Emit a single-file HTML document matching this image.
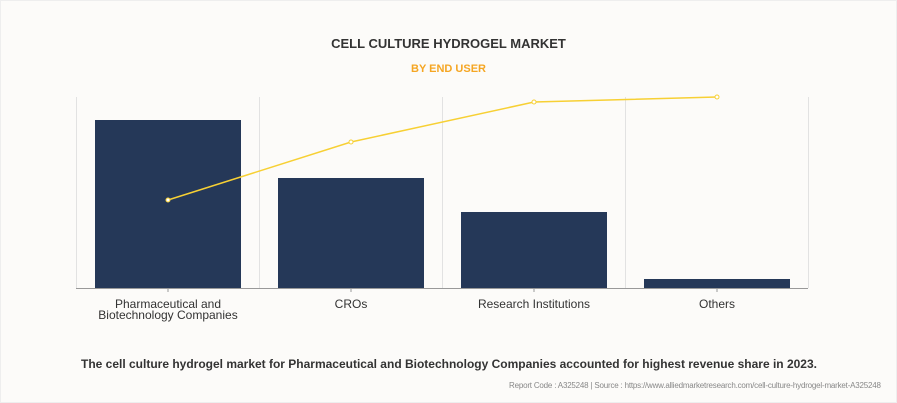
<!DOCTYPE html>
<html><head><meta charset="utf-8"><style>
body{margin:0;background:#fff;}
.w{position:relative;width:897px;height:403px;box-sizing:border-box;background:#fcfbf9;border:1px solid #eee;font-family:"Liberation Sans",sans-serif;overflow:hidden}
.t{position:absolute;left:-1px;width:897px;text-align:center}
svg{position:absolute;left:-1px;top:-1px}
</style></head><body><div class="w">
<div class="t" style="top:35px;font-size:13px;font-weight:bold;color:#333">CELL CULTURE HYDROGEL MARKET</div>
<div class="t" style="top:62px;font-size:11px;font-weight:bold;color:#f5a623">BY END USER</div>
<svg width="897" height="403">
<g stroke="#e2e2e2" stroke-width="1">
<line x1="76.5" y1="97" x2="76.5" y2="288"/><line x1="259.5" y1="97" x2="259.5" y2="288"/><line x1="442.5" y1="97" x2="442.5" y2="288"/><line x1="625.5" y1="97" x2="625.5" y2="288"/><line x1="808.5" y1="97" x2="808.5" y2="288"/>
</g>
<g fill="#253858">
<rect x="95" y="120" width="146" height="168"/><rect x="278" y="178" width="146" height="110"/><rect x="461" y="212" width="146" height="76"/><rect x="644" y="279" width="146" height="9"/>
</g>
<line x1="76" y1="288.5" x2="808" y2="288.5" stroke="#999"/>
<g stroke="#999"><line x1="168" y1="288" x2="168" y2="292"/><line x1="351" y1="288" x2="351" y2="292"/><line x1="534" y1="288" x2="534" y2="292"/><line x1="717" y1="288" x2="717" y2="292"/></g>
<polyline points="168,200 351,142 534,102 717,97" fill="none" stroke="#f7d034" stroke-width="1.5"/>
<g fill="#fff" stroke="#f7d034"><circle cx="168" cy="200" r="2"/><circle cx="351" cy="142" r="2"/><circle cx="534" cy="102" r="2"/><circle cx="717" cy="97" r="2"/></g>
<g font-family="Liberation Sans,sans-serif" font-size="12" fill="#333" text-anchor="middle">
<text x="168" y="308">Pharmaceutical and</text><text x="168" y="319">Biotechnology Companies</text>
<text x="351" y="308">CROs</text><text x="534" y="308">Research Institutions</text><text x="717" y="308">Others</text>
</g>
<text x="449" y="368" text-anchor="middle" font-family="Liberation Sans,sans-serif" font-size="12" font-weight="bold" fill="#333" textLength="736">The cell culture hydrogel market for Pharmaceutical and Biotechnology Companies accounted for highest revenue share in 2023.</text>
<text x="881" y="388" text-anchor="end" font-family="Liberation Sans,sans-serif" font-size="8" fill="#888" textLength="372">Report Code : A325248  |  Source : https://www.alliedmarketresearch.com/cell-culture-hydrogel-market-A325248</text>
</svg>
</div></body></html>
